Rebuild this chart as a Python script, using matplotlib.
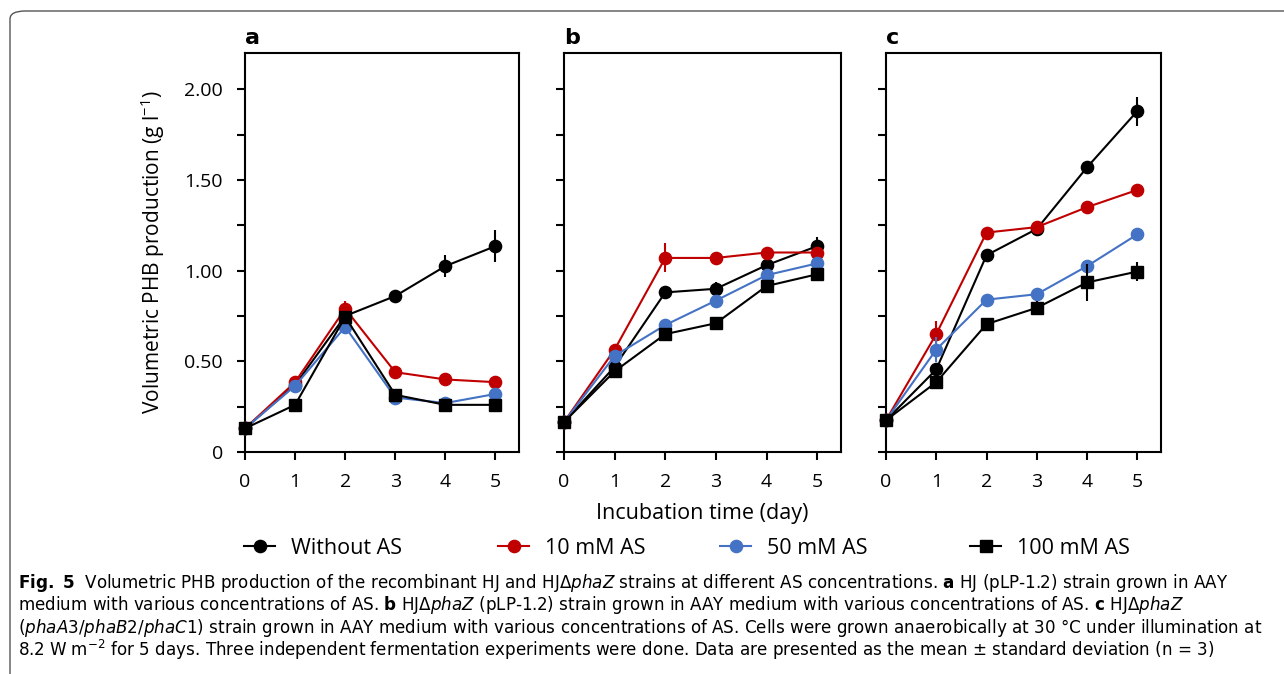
import matplotlib.pyplot as plt
from matplotlib.patches import FancyBboxPatch
from matplotlib.lines import Line2D
from matplotlib.ticker import MultipleLocator

plt.rcParams['font.family'] = ['Open Sans', 'DejaVu Sans']
plt.rcParams['mathtext.fontset'] = 'custom'
plt.rcParams['mathtext.rm'] = 'Open Sans'
plt.rcParams['mathtext.it'] = 'Open Sans:italic'
plt.rcParams['mathtext.bf'] = 'Open Sans:bold'

days = [0, 1, 2, 3, 4, 5]
series_names = ['Without AS', '10 mM AS', '50 mM AS', '100 mM AS']
colors = ['black', '#C00000', '#4472C4', 'black']
markers = ['o', 'o', 'o', 's']
panel_labels = ['a', 'b', 'c']
y_ticks = [0, 0.5, 1.0, 1.5, 2.0]
y_ticklabels = ['0', '0.50', '1.00', '1.50', '2.00']

# panel a: HJ (pLP-1.2)
a_vals = [
    [0.13, 0.37, 0.75, 0.86, 1.025, 1.135],
    [0.13, 0.385, 0.79, 0.44, 0.40, 0.385],
    [0.13, 0.365, 0.69, 0.30, 0.27, 0.32],
    [0.13, 0.26, 0.745, 0.315, 0.26, 0.26],
]
a_err = [
    [0.0, 0.02, 0.05, 0.03, 0.06, 0.09],
    [0.0, 0.03, 0.04, 0.02, 0.02, 0.02],
    [0.0, 0.03, 0.03, 0.02, 0.02, 0.02],
    [0.0, 0.02, 0.03, 0.02, 0.02, 0.02],
]
# panel b: HJdphaZ (pLP-1.2)
b_vals = [
    [0.165, 0.47, 0.88, 0.90, 1.03, 1.135],
    [0.165, 0.565, 1.07, 1.07, 1.10, 1.10],
    [0.165, 0.53, 0.70, 0.835, 0.975, 1.04],
    [0.165, 0.445, 0.65, 0.71, 0.915, 0.98],
]
b_err = [
    [0.0, 0.02, 0.02, 0.04, 0.02, 0.05],
    [0.0, 0.02, 0.08, 0.02, 0.02, 0.02],
    [0.0, 0.02, 0.02, 0.02, 0.02, 0.02],
    [0.0, 0.02, 0.03, 0.02, 0.03, 0.02],
]
# panel c: HJdphaZ (phaA3/phaB2/phaC1)
c_vals = [
    [0.175, 0.455, 1.085, 1.23, 1.57, 1.88],
    [0.175, 0.65, 1.21, 1.24, 1.35, 1.445],
    [0.175, 0.565, 0.84, 0.87, 1.025, 1.20],
    [0.175, 0.385, 0.705, 0.795, 0.935, 0.995],
]
c_err = [
    [0.0, 0.03, 0.02, 0.02, 0.02, 0.08],
    [0.0, 0.07, 0.02, 0.02, 0.02, 0.02],
    [0.0, 0.07, 0.02, 0.02, 0.02, 0.02],
    [0.0, 0.02, 0.02, 0.04, 0.10, 0.05],
]
panel_vals = [a_vals, b_vals, c_vals]
panel_errs = [a_err, b_err, c_err]

W, H = 1284, 674
fig = plt.figure(figsize=(W / 100, H / 100), dpi=100)

# rounded frame around the figure
frame = FancyBboxPatch((10 / W, -0.1), 1.2, 1 - 11 / H + 0.1,
                       boxstyle='round,pad=0,rounding_size=0.012',
                       transform=fig.transFigure, fill=False,
                       edgecolor='#555555', linewidth=1.0)
fig.patches.append(frame)

lefts = [245, 564, 886]
rights = [519, 841, 1161]
top, bottom = 53, 452

for i in range(3):
    ax = fig.add_axes([lefts[i] / W, 1 - bottom / H,
                       (rights[i] - lefts[i]) / W, (bottom - top) / H])
    for k in range(4):
        ax.errorbar(days, panel_vals[i][k], yerr=panel_errs[i][k],
                    color=colors[k], marker=markers[k],
                    markersize=8.8 if markers[k] == 'o' else 8.2,
                    linewidth=1.5, elinewidth=1.5, capsize=0,
                    clip_on=False, zorder=3 + k)
    ax.set_xlim(0, 5.47)
    ax.set_ylim(0, 2.2)
    ax.set_xticks(days)
    ax.set_yticks(y_ticks)
    ax.yaxis.set_minor_locator(MultipleLocator(0.25))
    ax.tick_params(axis='both', which='both', direction='out',
                   width=1.5, labelsize=14)
    ax.tick_params(axis='both', which='major', length=6)
    ax.tick_params(axis='y', which='minor', length=6)
    ax.tick_params(axis='x', pad=9)
    ax.tick_params(axis='y', pad=10)
    for s in ax.spines.values():
        s.set_linewidth(1.5)
    if i == 0:
        ax.set_yticklabels(y_ticklabels)
        ax.set_ylabel('Volumetric PHB production (g l$^{-1}$)', fontsize=15,
                      labelpad=12)
    else:
        ax.set_yticklabels([])
    if i == 1:
        ax.set_xlabel('Incubation time (day)', fontsize=15.5, labelpad=9)
    ax.text(0.0, 1.012, panel_labels[i], transform=ax.transAxes,
            fontsize=16, fontweight='bold', ha='left', va='bottom',
            family='DejaVu Sans')

# legend entries placed one by one
handle_x = [244, 498, 720, 970]
for k in range(4):
    h = Line2D([], [], color=colors[k], marker=markers[k],
               markersize=8.8 if markers[k] == 'o' else 8.2, linewidth=1.5)
    fig.legend([h], [series_names[k]], loc='center left',
               bbox_to_anchor=(handle_x[k] / W, 1 - 548 / H),
               frameon=False, fontsize=15.5, handlelength=1.45,
               handletextpad=0.75, borderpad=0, borderaxespad=0)

caption = [
    r'$\bf{Fig.\ 5}$  Volumetric PHB production of the recombinant HJ and HJ$\Delta\it{phaZ}$ strains at different AS concentrations. $\bf{a}$ HJ (pLP-1.2) strain grown in AAY',
    r'medium with various concentrations of AS. $\bf{b}$ HJ$\Delta\it{phaZ}$ (pLP-1.2) strain grown in AAY medium with various concentrations of AS. $\bf{c}$ HJ$\Delta\it{phaZ}$',
    r'($\it{phaA3}$/$\it{phaB2}$/$\it{phaC1}$) strain grown in AAY medium with various concentrations of AS. Cells were grown anaerobically at 30 °C under illumination at',
    r'8.2 W m$^{-2}$ for 5 days. Three independent fermentation experiments were done. Data are presented as the mean ± standard deviation (n = 3)',
]
for j, line in enumerate(caption):
    fig.text(18 / W, 1 - (583 + 22.3 * j) / H, line, fontsize=12.1,
             ha='left', va='center', family='DejaVu Sans',
             math_fontfamily='dejavusans')

fig.savefig('out.png', dpi=100)
